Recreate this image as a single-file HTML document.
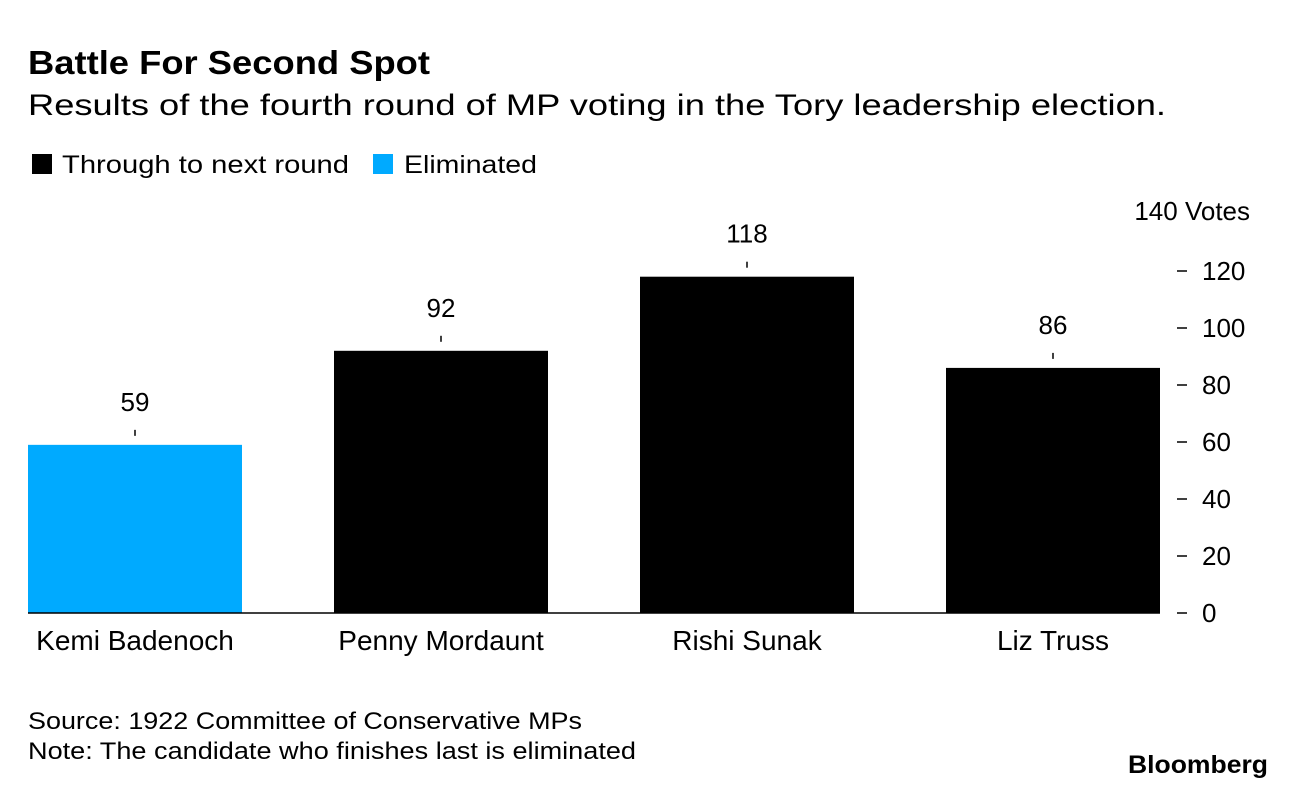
<!DOCTYPE html>
<html><head><meta charset="utf-8"><style>
body{margin:0;background:#fff;font-family:"Liberation Sans",Arial,sans-serif;}
svg text{font-family:"Liberation Sans",Arial,sans-serif;}
</style></head><body>
<svg id="c" width="1296" height="790" xmlns="http://www.w3.org/2000/svg">
<text x="28" y="74" font-size="33" font-weight="bold" fill="#000" textLength="402" lengthAdjust="spacingAndGlyphs">Battle For Second Spot</text>
<text x="28" y="115" font-size="30" fill="#000" textLength="1138" lengthAdjust="spacingAndGlyphs">Results of the fourth round of MP voting in the Tory leadership election.</text>
<rect x="32" y="154" width="20" height="20" fill="#000"/>
<text x="62" y="173" font-size="25" textLength="287" lengthAdjust="spacingAndGlyphs">Through to next round</text>
<rect x="373" y="154" width="20" height="20" fill="#00aaff"/>
<text x="404" y="173" font-size="25" textLength="133" lengthAdjust="spacingAndGlyphs">Eliminated</text>
<g id="plot"></g>
<text x="28" y="729" font-size="24" textLength="554" lengthAdjust="spacingAndGlyphs">Source: 1922 Committee of Conservative MPs</text>
<text x="28" y="759" font-size="24" textLength="608" lengthAdjust="spacingAndGlyphs">Note: The candidate who finishes last is eliminated</text>
<text x="1128" y="773" font-size="25" font-weight="bold" textLength="140" lengthAdjust="spacingAndGlyphs">Bloomberg</text>
</svg>
<script>
const categories=["Kemi Badenoch","Penny Mordaunt","Rishi Sunak","Liz Truss"];
const values=[59,92,118,86];
const eliminated=[true,false,false,false];
const ticks=[0,20,40,60,80,100,120];
const NS="http://www.w3.org/2000/svg";
const plotG=document.getElementById('plot');
const y0=613,pxPer=(613-271)/120;
function yS(v){return y0-v*pxPer;}
function xS(i){return 28+i*306;}
const bw=214;
function mk(t,a){const e=document.createElementNS(NS,t);for(const k in a)e.setAttribute(k,a[k]);plotG.appendChild(e);return e;}
ticks.forEach(t=>{
 const l=mk('line',{x1:1177,x2:1187,y1:yS(t),y2:yS(t),stroke:'#000','stroke-width':1.5});
 
 
 const tx=mk('text',{x:1202,y:yS(t)+9,'font-size':26});tx.textContent=t;
 
 
});
const axTitle=mk('text',{x:1250,y:yS(140)+6,'font-size':26,'text-anchor':'end'});axTitle.textContent="140 Votes";


values.forEach((v,i)=>{
 const r=mk('rect',{x:xS(i),y:yS(v),width:bw,height:y0-yS(v),fill:eliminated[i]?'#00aaff':'#000'});
 
 
 const cx=xS(i)+bw/2;
 const tk=mk('line',{x1:cx,x2:cx,y1:yS(v)-15,y2:yS(v)-9,stroke:'#000','stroke-width':1.5});
 
 
 const lb=mk('text',{x:cx,y:yS(v)-34,'font-size':26,'text-anchor':'middle'});lb.textContent=v;
 
 
 const cl=mk('text',{x:cx,y:650,'font-size':28,'text-anchor':'middle'});cl.textContent=categories[i];
 
 
});
const base=mk('line',{x1:28,x2:1160,y1:y0,y2:y0,stroke:'#000','stroke-width':1.5});


</script>
</body></html>
